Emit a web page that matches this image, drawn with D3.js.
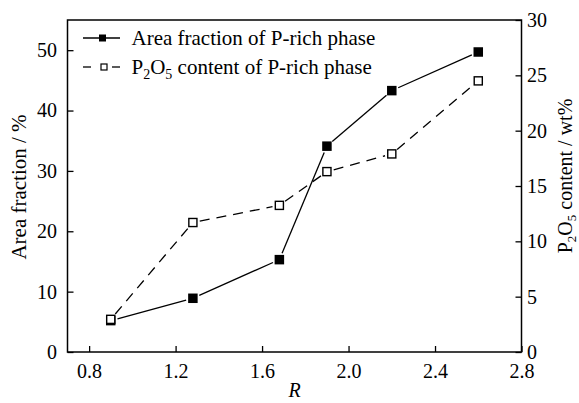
<!DOCTYPE html>
<html>
<head>
<meta charset="utf-8">
<script src="https://cdn.jsdelivr.net/npm/d3@7"></script>
<style>
  html, body { margin: 0; padding: 0; background: #fff; }
  svg { display: block; }
  svg text { font-family: "Liberation Serif", "Times New Roman", serif !important; fill: #000; }
</style>
</head>
<body>
<svg id="chart" width="579" height="403"></svg>
<script>
// ---- data ----
const R = [0.9, 1.28, 1.68, 1.9, 2.2, 2.6];
const areaFraction = [5.2, 8.9, 15.3, 34.1, 43.3, 49.7];      // left axis, %
const p2o5Content = [2.95, 11.7, 13.25, 16.3, 17.9, 24.5];    // right axis, wt%
const xTicks = [0.8, 1.2, 1.6, 2.0, 2.4, 2.8];
const yLeftTicks = [0, 10, 20, 30, 40, 50];
const yRightTicks = [0, 5, 10, 15, 20, 25, 30];
const seriesNames = ["Area fraction of P-rich phase", "content of P-rich phase"];

// ---- layout ----
const SERIF = "'Liberation Serif', 'Times New Roman', serif";
const L = 67.5, Rgt = 521.5, T = 20, B = 352;
const svg = d3.select("#chart");

const x = d3.scaleLinear().domain([0.7, 2.8]).range([L, Rgt]);
const yL = d3.scaleLinear().domain([0, 55]).range([B, T]);
const yR = d3.scaleLinear().domain([0, 30]).range([B, T]);

// axes
const fs = 20;
const gx = svg.append("g").attr("transform", `translate(0,${B})`)
  .call(d3.axisBottom(x).tickValues(xTicks).tickFormat(d3.format(".1f"))
    .tickSizeInner(-6).tickSizeOuter(0).tickPadding(12));
const gyl = svg.append("g").attr("transform", `translate(${L},0)`)
  .call(d3.axisLeft(yL).tickValues(yLeftTicks).tickFormat(d3.format("d"))
    .tickSizeInner(-6).tickSizeOuter(0).tickPadding(10.5));
const gyr = svg.append("g").attr("transform", `translate(${Rgt},0)`)
  .call(d3.axisRight(yR).tickValues(yRightTicks).tickFormat(d3.format("d"))
    .tickSizeInner(-6).tickSizeOuter(0).tickPadding(5.5));
[gx, gyl, gyr].forEach(g => {
  g.attr("font-family", SERIF).style("font-family", SERIF);
  g.select(".domain").remove();
  g.selectAll(".tick line").attr("stroke", "#000").attr("stroke-width", 1.3);
  g.selectAll(".tick text").attr("font-size", fs).style("font-family", SERIF).attr("fill", "#000");
});

// frame
svg.append("rect").attr("x", L).attr("y", T).attr("width", Rgt - L).attr("height", B - T)
  .attr("fill", "none").attr("stroke", "#000").attr("stroke-width", 1.5);

// axis titles
svg.append("text").attr("transform", `translate(26,187) rotate(-90)`)
  .attr("text-anchor", "middle").attr("font-size", 21).style("font-family", SERIF)
  .text("Area fraction / %");

const rt = svg.append("text").attr("transform", `translate(572,176) rotate(-90)`)
  .attr("text-anchor", "middle").attr("font-size", 20).style("font-family", SERIF);
rt.append("tspan").text("P");
rt.append("tspan").attr("font-size", 13).attr("dy", 4).text("2");
rt.append("tspan").attr("dy", -4).text("O");
rt.append("tspan").attr("font-size", 13).attr("dy", 4).text("5");
rt.append("tspan").attr("dy", -4).text(" content / wt%");

svg.append("text").attr("x", x(1.75)).attr("y", 397).attr("text-anchor", "middle")
  .attr("font-size", 20).attr("font-style", "italic").style("font-family", SERIF).text("R");

// series with gaps around markers
function gappedSegments(xs, ys, yScale, gap) {
  const segs = [];
  for (let i = 0; i < xs.length - 1; i++) {
    const x1 = x(xs[i]), y1 = yScale(ys[i]), x2 = x(xs[i + 1]), y2 = yScale(ys[i + 1]);
    const d = Math.hypot(x2 - x1, y2 - y1);
    const ux = (x2 - x1) / d, uy = (y2 - y1) / d;
    segs.push([x1 + ux * gap, y1 + uy * gap, x2 - ux * gap, y2 - uy * gap]);
  }
  return segs;
}

const ms = 9.5;
// solid series
svg.append("g").selectAll("line").data(gappedSegments(R, areaFraction, yL, 7)).join("line")
  .attr("x1", d => d[0]).attr("y1", d => d[1]).attr("x2", d => d[2]).attr("y2", d => d[3])
  .attr("stroke", "#000").attr("stroke-width", 1.3);
// dashed series
svg.append("g").selectAll("line").data(gappedSegments(R, p2o5Content, yR, 7)).join("line")
  .attr("x1", d => d[0]).attr("y1", d => d[1]).attr("x2", d => d[2]).attr("y2", d => d[3])
  .attr("stroke", "#000").attr("stroke-width", 1.3).attr("stroke-dasharray", "10,7");

svg.append("g").selectAll("rect").data(R.map((r, i) => [r, areaFraction[i]])).join("rect")
  .attr("x", d => x(d[0]) - ms / 2).attr("y", d => yL(d[1]) - ms / 2)
  .attr("width", ms).attr("height", ms).attr("fill", "#000");
svg.append("g").selectAll("rect").data(R.map((r, i) => [r, p2o5Content[i]])).join("rect")
  .attr("x", d => x(d[0]) - (ms - 1.4) / 2).attr("y", d => yR(d[1]) - (ms - 1.4) / 2)
  .attr("width", ms - 1.4).attr("height", ms - 1.4).attr("fill", "#fff")
  .attr("stroke", "#000").attr("stroke-width", 1.4);

// legend
const lg = svg.append("g");
lg.append("line").attr("x1", 83).attr("x2", 120).attr("y1", 38).attr("y2", 38)
  .attr("stroke", "#000").attr("stroke-width", 1.3);
lg.append("rect").attr("x", 102.5 - 3.5).attr("y", 38 - 3.5).attr("width", 7).attr("height", 7).attr("fill", "#000");
lg.append("text").attr("x", 131.5).attr("y", 44.5).attr("font-size", 21).style("font-family", SERIF)
  .text(seriesNames[0]);

lg.append("line").attr("x1", 83).attr("x2", 91).attr("y1", 67).attr("y2", 67)
  .attr("stroke", "#000").attr("stroke-width", 1.3);
lg.append("line").attr("x1", 112).attr("x2", 120).attr("y1", 67).attr("y2", 67)
  .attr("stroke", "#000").attr("stroke-width", 1.3);
lg.append("rect").attr("x", 104 - 3).attr("y", 67 - 3).attr("width", 6).attr("height", 6)
  .attr("fill", "#fff").attr("stroke", "#000").attr("stroke-width", 1.2);
const t2 = lg.append("text").attr("x", 131.5).attr("y", 74).attr("font-size", 21).style("font-family", SERIF);
t2.append("tspan").text("P");
t2.append("tspan").attr("font-size", 14).attr("dy", 5).text("2");
t2.append("tspan").attr("dy", -5).text("O");
t2.append("tspan").attr("font-size", 14).attr("dy", 5).text("5");
t2.append("tspan").attr("dy", -5).text(" " + seriesNames[1]);
</script>
</body>
</html>
